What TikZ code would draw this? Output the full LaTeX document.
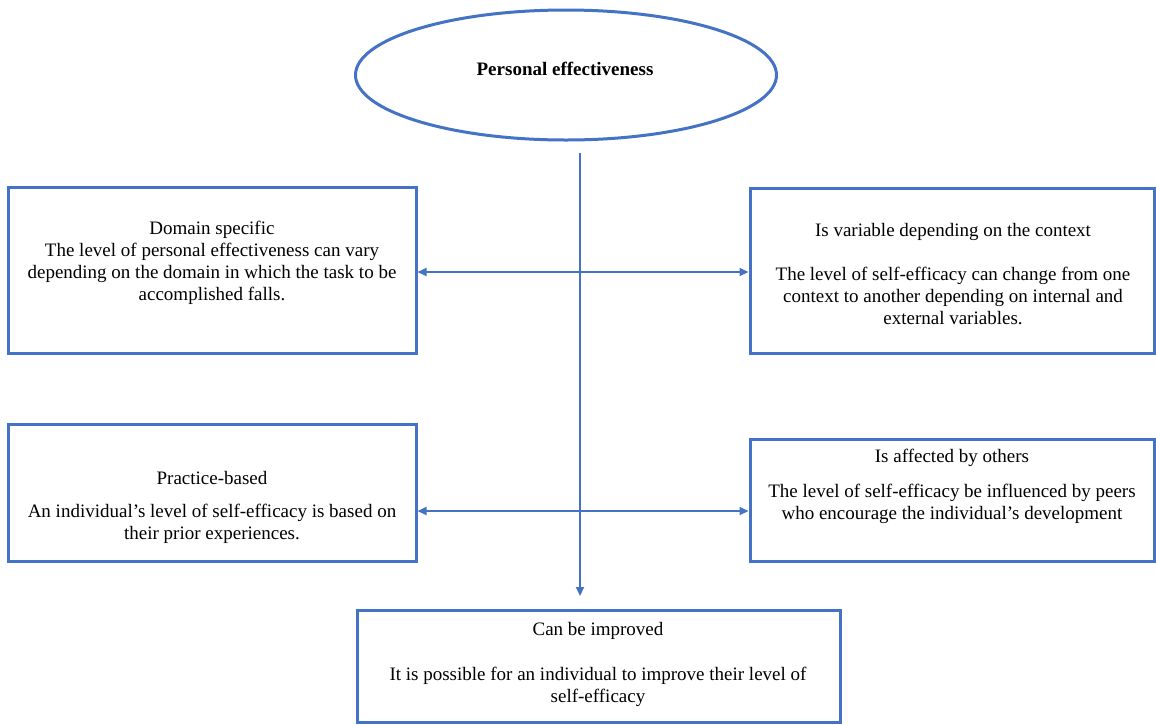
\documentclass[tikz,border=0pt]{standalone}
\usepackage{fontspec}
\IfFontExistsTF{LiberationSerif-Regular.ttf}{%
\setmainfont{LiberationSerif}[Extension=.ttf,UprightFont=*-Regular,BoldFont=*-Bold,ItalicFont=*-Italic,BoldItalicFont=*-BoldItalic]}{%
\setmainfont{Liberation Serif}}
\usetikzlibrary{shapes.geometric,arrows.meta}
\definecolor{bl}{HTML}{4472C4}
\begin{document}
\begin{tikzpicture}[x=1pt,y=-1pt,
  box/.style={draw=bl,line width=3pt,rectangle,inner sep=0pt},
  txt/.style={align=center,font=\fontsize{19}{22}\selectfont,inner sep=0pt},
  conn/.style={draw=bl,line width=2pt},
  tip/.tip={Triangle[length=9pt,width=8pt]}]
\useasboundingbox (0,0) rectangle (1156,724);
% ellipse
\node[draw=bl,line width=3pt,ellipse,minimum width=421pt,minimum height=130pt,inner sep=0pt] (ell) at (566,75) {};
\node[txt,font=\fontsize{19}{22}\selectfont\bfseries] (title) at (565,69) {Personal effectiveness};
% boxes
\node[box,minimum width=408pt,minimum height=166pt] (box1) at (212,270) {};
\node[box,minimum width=404pt,minimum height=165pt] (box2) at (952,270.5) {};
\node[box,minimum width=408pt,minimum height=137pt] (box3) at (212,492.5) {};
\node[box,minimum width=404pt,minimum height=122pt] (box4) at (952,500) {};
\node[box,minimum width=483pt,minimum height=112pt] (box5) at (598.5,666) {};
% texts
\node[txt] (t1) at (212,262.5) {Domain specific\\The level of personal effectiveness can vary\\depending on the domain in which the task to be\\accomplished falls.};
\node[txt] (t2) at (953,274.5) {Is variable depending on the context\\[22pt]The level of self-efficacy can change from one\\context to another depending on internal and\\external variables.};
\node[txt] (t3) at (212,507.5) {Practice-based\\[11pt]An individual’s level of self-efficacy is based on\\their prior experiences.};
\node[txt] (t4) at (952,486.5) {Is affected by others\\[13pt]The level of self-efficacy be influenced by peers\\who encourage the individual’s development};
\node[txt] (t5) at (598,664) {Can be improved\\[23pt]It is possible for an individual to improve their level of\\self-efficacy};
% connectors
\coordinate (top) at (580,153);
\coordinate (bot) at (580,596);
\coordinate (a1) at (580,272);
\coordinate (a2) at (580,511);
\draw[conn,tip-tip] (box1.east |- a1) -- (box2.west |- a1);
\draw[conn,tip-tip] (box3.east |- a2) -- (box4.west |- a2);
\draw[conn,-tip] (top) -- (bot);
\end{tikzpicture}
\end{document}
